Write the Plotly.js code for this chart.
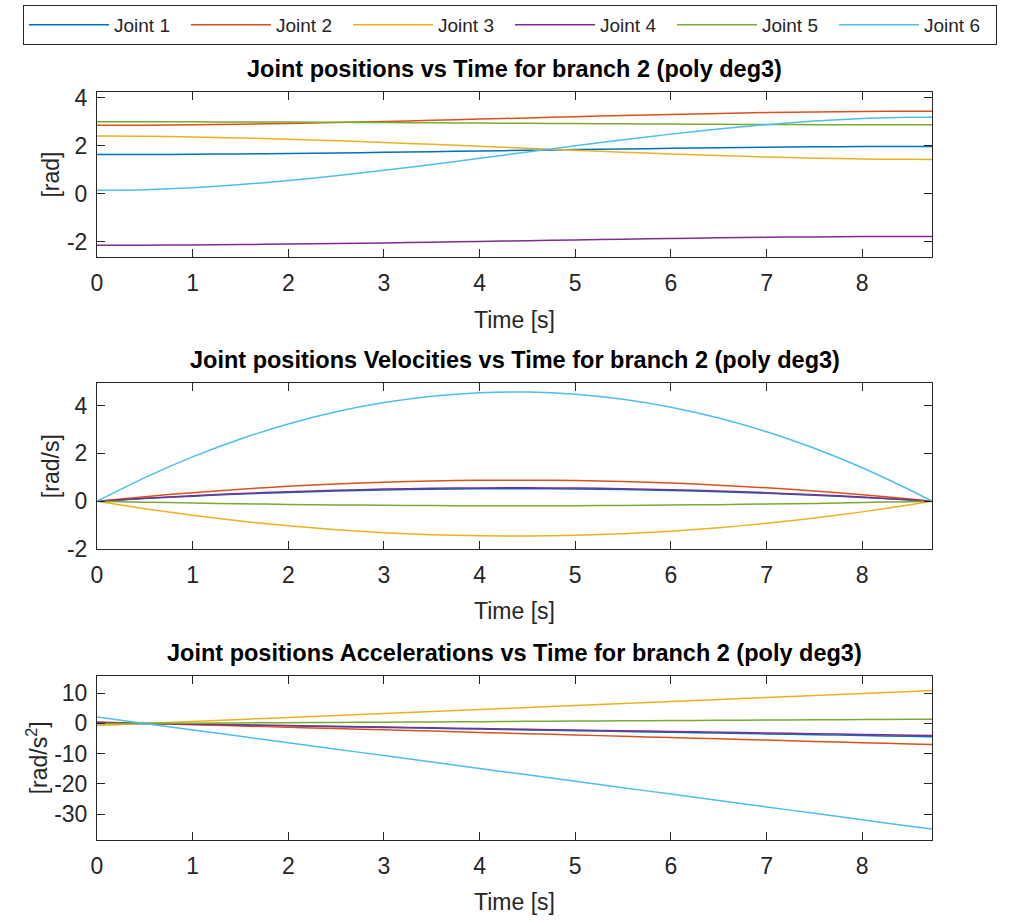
<!DOCTYPE html>
<html>
<head>
<meta charset="utf-8">
<script src="https://cdn.plot.ly/plotly-3.0.1.min.js"></script>
<style>html,body{margin:0;padding:0;background:#fff;}</style>
</head>
<body>
<div id="chart" style="width:1015px;height:923px;"></div>
<script>
// Time samples [s]
const time = [0, 0.5, 1, 1.5, 2, 2.5, 3, 3.5, 4, 4.5, 5, 5.5, 6, 6.5, 7, 7.5, 8, 8.5, 8.73];

const jointNames = ["Joint 1", "Joint 2", "Joint 3", "Joint 4", "Joint 5", "Joint 6"];
const jointColors = ["#0072BD", "#D95319", "#EDB120", "#7E2F8E", "#77AC30", "#4DBEEE"];

// Joint positions [rad]
const pos1 = [1.63, 1.633, 1.642, 1.657, 1.675, 1.698, 1.723, 1.750, 1.779, 1.808, 1.837, 1.865, 1.891, 1.915, 1.935, 1.952, 1.963, 1.969, 1.97];
const pos2 = [2.85, 2.856, 2.871, 2.896, 2.929, 2.968, 3.011, 3.058, 3.108, 3.159, 3.209, 3.258, 3.303, 3.344, 3.380, 3.408, 3.428, 3.439, 3.44];
const pos3 = [2.40, 2.391, 2.365, 2.324, 2.271, 2.207, 2.135, 2.057, 1.976, 1.893, 1.810, 1.730, 1.655, 1.588, 1.529, 1.482, 1.449, 1.432, 1.43];
const pos4 = [-2.15, -2.147, -2.137, -2.121, -2.101, -2.076, -2.049, -2.019, -1.988, -1.956, -1.925, -1.895, -1.866, -1.840, -1.818, -1.800, -1.787, -1.781, -1.78];
const pos5 = [3.00, 2.999, 2.995, 2.990, 2.983, 2.974, 2.965, 2.954, 2.943, 2.932, 2.921, 2.910, 2.900, 2.891, 2.883, 2.877, 2.873, 2.870, 2.87];
const pos6 = [0.14, 0.169, 0.251, 0.379, 0.547, 0.747, 0.973, 1.218, 1.474, 1.736, 1.995, 2.246, 2.482, 2.695, 2.878, 3.025, 3.130, 3.184, 3.19];

// Joint velocities [rad/s]
const vel1 = [0, 0.112, 0.211, 0.296, 0.367, 0.425, 0.469, 0.500, 0.516, 0.519, 0.509, 0.485, 0.447, 0.396, 0.331, 0.252, 0.159, 0.053, 0];
const vel2 = [0, 0.190, 0.357, 0.501, 0.622, 0.719, 0.794, 0.845, 0.874, 0.879, 0.861, 0.821, 0.757, 0.669, 0.559, 0.426, 0.270, 0.090, 0];
const vel3 = [0, -0.316, -0.592, -0.831, -1.031, -1.194, -1.317, -1.403, -1.450, -1.459, -1.429, -1.361, -1.255, -1.111, -0.928, -0.707, -0.447, -0.150, 0];
const vel4 = [0, 0.121, 0.227, 0.319, 0.396, 0.458, 0.505, 0.538, 0.556, 0.559, 0.548, 0.522, 0.481, 0.426, 0.356, 0.271, 0.172, 0.057, 0];
const vel5 = [0, -0.041, -0.077, -0.108, -0.134, -0.155, -0.171, -0.183, -0.189, -0.190, -0.186, -0.177, -0.163, -0.145, -0.121, -0.092, -0.058, -0.019, 0];
const vel6 = [0, 0.988, 1.854, 2.601, 3.228, 3.736, 4.123, 4.390, 4.538, 4.565, 4.474, 4.261, 3.929, 3.476, 2.905, 2.213, 1.400, 0.468, 0];

// Joint accelerations [rad/s^2]
const acc1 = [0.27, 0.00, -0.26, -0.53, -0.80, -1.07, -1.33, -1.60, -1.87, -2.14, -2.40, -2.67, -2.94, -3.21, -3.47, -3.74, -4.01, -4.28, -4.40];
const acc2 = [0.43, 0.00, -0.42, -0.85, -1.27, -1.70, -2.12, -2.55, -2.97, -3.40, -3.83, -4.25, -4.68, -5.10, -5.53, -5.95, -6.38, -6.80, -7.00];
const acc3 = [-0.66, 0.00, 0.66, 1.33, 1.99, 2.65, 3.31, 3.97, 4.64, 5.30, 5.96, 6.62, 7.29, 7.95, 8.61, 9.27, 9.93, 10.60, 10.90];
const acc4 = [0.24, 0.00, -0.25, -0.49, -0.73, -0.97, -1.22, -1.46, -1.70, -1.95, -2.19, -2.43, -2.67, -2.92, -3.16, -3.40, -3.65, -3.89, -4.00];
const acc5 = [-0.09, 0.00, 0.08, 0.17, 0.25, 0.34, 0.42, 0.51, 0.59, 0.68, 0.76, 0.85, 0.93, 1.02, 1.10, 1.19, 1.28, 1.36, 1.40];
const acc6 = [2.10, -0.03, -2.15, -4.27, -6.40, -8.53, -10.65, -12.77, -14.90, -17.03, -19.15, -21.27, -23.40, -25.52, -27.65, -29.77, -31.90, -34.02, -35.00];

const subplotTitles = [
  "Joint positions vs Time for branch 2 (poly deg3)",
  "Joint positions Velocities vs Time for branch 2 (poly deg3)",
  "Joint positions Accelerations vs Time for branch 2 (poly deg3)"
];
const yLabels = ["[rad]", "[rad/s]", "[rad/s<sup>2</sup>]"];
const xLabel = "Time [s]";
const xTicks = [0, 1, 2, 3, 4, 5, 6, 7, 8];
const yTicks1 = [-2, 0, 2, 4];
const yTickText1 = ["-2", "0", "2", "4"];
const yTicks2 = [-2, 0, 2, 4];
const yTickText2 = ["-2", "0", "2", "4"];
const yTicks3 = [-30, -20, -10, 0, 10];
const yTickText3 = ["-30", "-20", "-10", "0", "10"];

const positions = [pos1, pos2, pos3, pos4, pos5, pos6];
const velocities = [vel1, vel2, vel3, vel4, vel5, vel6];
const accelerations = [acc1, acc2, acc3, acc4, acc5, acc6];

const FONT = "Liberation Sans, Arial, Helvetica, sans-serif";
const traces = [];
[[positions, "x", "y"], [velocities, "x2", "y2"], [accelerations, "x3", "y3"]].forEach((grp, gi) => {
  grp[0].forEach((vals, j) => {
    traces.push({
      type: "scatter", mode: "lines",
      x: time, y: vals,
      xaxis: grp[1], yaxis: grp[2],
      name: jointNames[j],
      legendgroup: jointNames[j],
      showlegend: gi === 0,
      line: {color: jointColors[j], width: 1.5, shape: "spline", smoothing: 0.6},
      hoverinfo: "x+y+name"
    });
  });
});

const W = 1015, H = 923;
const xDom = [97 / W, 932 / W];
function yDom(top, bottom) { return [1 - bottom / H, 1 - top / H]; }
const dom1 = yDom(91.7, 257.3), dom2 = yDom(383.3, 549), dom3 = yDom(675.7, 840);

const axisCommon = {
  showline: true, linecolor: "#262626", linewidth: 1, mirror: "ticks",
  ticks: "inside", ticklen: 8, tickwidth: 1, tickcolor: "#262626",
  showgrid: false, zeroline: false,
  tickfont: {family: FONT, size: 23, color: "#262626"}
};
function xAx(anchor) {
  return Object.assign({}, axisCommon, {
    domain: xDom, range: [0, 8.73], anchor: anchor, tickvals: xTicks,
    ticklabelstandoff: 5,
    title: {text: xLabel, font: {family: FONT, size: 23, color: "#262626"}, standoff: 16}
  });
}
function yAx(anchor, dom, range, ticks, ticktext, label) {
  return Object.assign({}, axisCommon, {
    domain: dom, range: range, anchor: anchor, tickvals: ticks, ticktext: ticktext,
    ticklabelstandoff: 4,
    title: {text: label, font: {family: FONT, size: 23, color: "#262626"}, standoff: 0}
  });
}

const layout = {
  width: W, height: H,
  margin: {l: 0, r: 0, t: 0, b: 0},
  paper_bgcolor: "#ffffff", plot_bgcolor: "#ffffff",
  font: {family: FONT, color: "#262626"},
  showlegend: true,
  legend: {
    orientation: "h", x: 23 / W, y: 1 - 5 / H, xanchor: "left", yanchor: "top",
    bordercolor: "#262626", borderwidth: 1, bgcolor: "#ffffff",
    font: {family: FONT, size: 19, color: "#262626"},
    itemwidth: 80, entrywidth: 67, traceorder: "normal"
  },
  xaxis: xAx("y"), yaxis: yAx("x", dom1, [-2.65, 4.25], yTicks1, yTickText1, yLabels[0]),
  xaxis2: xAx("y2"), yaxis2: yAx("x2", dom2, [-2, 4.93], yTicks2, yTickText2, yLabels[1]),
  xaxis3: xAx("y3"), yaxis3: yAx("x3", dom3, [-38.6, 15.8], yTicks3, yTickText3, yLabels[2]),
  annotations: subplotTitles.map((t, i) => ({
    text: "<b>" + t + "</b>", xref: "paper", yref: "paper",
    x: (xDom[0] + xDom[1]) / 2, y: [dom1, dom2, dom3][i][1],
    xanchor: "center", yanchor: "bottom", yshift: 8, showarrow: false,
    font: {family: FONT, size: 23.5, color: "#000000"}
  }))
};

Plotly.newPlot("chart", traces, layout, {displayModeBar: false, staticPlot: true});
</script>
</body>
</html>
